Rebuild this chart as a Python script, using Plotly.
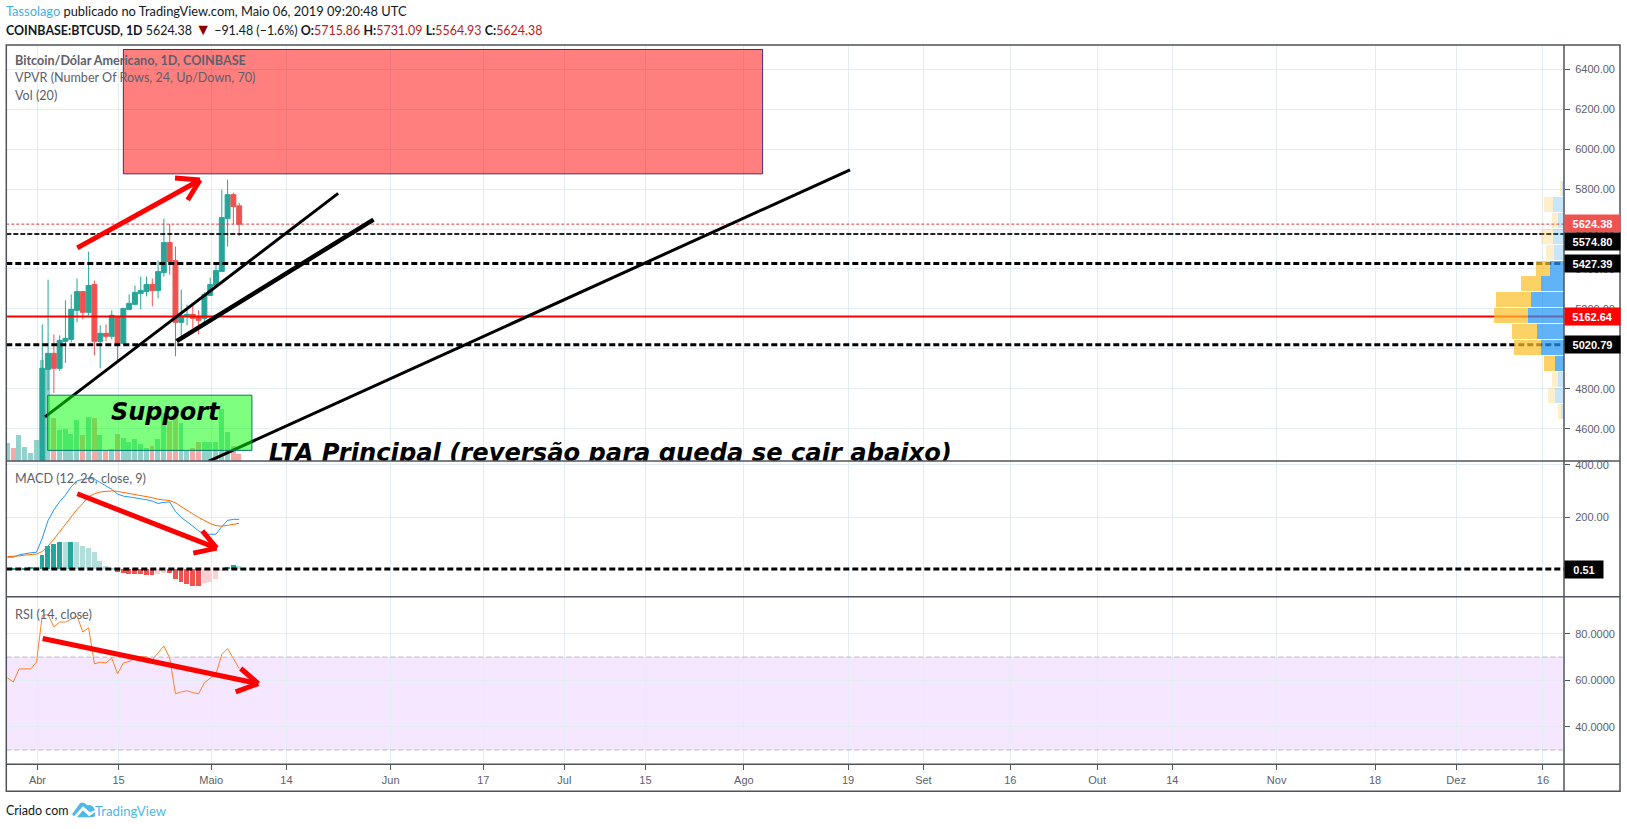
import pandas as pd
import plotly.graph_objects as go

W, H = 1627, 829

# ---------- data ----------
ALL_DATES = pd.date_range("2019-03-27", "2019-05-06", freq="D")
CANDLE_DATES = pd.date_range("2019-04-02", "2019-05-06", freq="D")

OPEN = [4140, 4898, 4978, 4903, 5038, 5048, 5193, 5287, 5183, 5322, 5038, 5078, 5063, 5163, 5028, 5198, 5223, 5277,
        5287, 5322, 5292, 5382, 5532, 5442, 5133, 5163, 5173, 5163, 5153, 5268, 5317, 5387, 5652, 5772, 5716]
HIGH = [5123, 5347, 5073, 5068, 5243, 5273, 5352, 5290, 5487, 5342, 5118, 5123, 5193, 5165, 5205, 5273, 5317, 5362,
        5362, 5352, 5442, 5652, 5625, 5512, 5297, 5222, 5218, 5193, 5283, 5357, 5422, 5797, 5847, 5782, 5731]
LOW = [4100, 4793, 4780, 4890, 4930, 5033, 5133, 5148, 5168, 4968, 4903, 5038, 5048, 4943, 5018, 5193, 5218, 5198,
       5263, 5213, 5253, 5362, 5372, 4963, 5043, 5118, 5103, 5073, 5133, 5268, 5312, 5387, 5512, 5622, 5565]
CLOSE = [4903, 4978, 4903, 5043, 5053, 5198, 5287, 5183, 5317, 5038, 5078, 5063, 5168, 5028, 5203, 5228, 5283, 5292,
         5322, 5292, 5387, 5532, 5437, 5133, 5168, 5173, 5153, 5143, 5273, 5322, 5392, 5657, 5772, 5712, 5624]

VOLUME = [17.7, 12.7, 25.7, 14, 7.7, 21, 101, 92.7, 43, 31, 32, 27, 41, 26, 44, 43, 26, 10, 12, 27, 23, 19, 21.7, 17,
          13, 15, 22, 47.7, 40, 47, 37.7, 10, 13, 19, 19, 19, 19, 52, 29, 15, 7]
VOLUME_UP = [1, 0, 1, 1, 1, 1, 1, 1, 0, 1, 1, 1, 1, 0, 1, 0, 1, 0, 1, 0, 1, 1, 1, 1, 1, 0, 1, 1, 0, 0, 1, 1, 0, 0, 1,
             1, 1, 1, 1, 0, 0]

MACD = [46, 46, 55, 60, 63, 65, 119, 187, 227, 259, 284, 316, 339, 344, 348, 345, 331, 320, 306, 288, 280, 277, 274,
        270, 266, 261, 252, 256, 258, 221, 198, 182, 163, 147, 134, 134, 134, 163, 187, 191, 191]
SIGNAL = [48.6, 48.6, 51, 54, 55, 58, 68, 89, 115, 143, 170, 198, 229, 252, 278, 289, 296, 298, 300, 298, 294, 291,
          287, 283, 279, 274, 268, 266, 263, 254, 241, 227, 212, 198, 186, 175, 167, 165, 168, 172, 176]
HIST = [-2, 3, 4, 6, 8, 7, 55, 89, 97, 105, 103, 104, 103, 89, 82, 66, 32, 13, 5, -12, -16, -18, -19, -20, -21, -22,
        -18, -14, -15, -37, -48, -57, -64, -65, -52, -48, -37, -6, 9, 17, 13]
RSI = [61.0, 59.3, 64.9, 64.9, 64.9, 67.9, 88.0, 88.3, 83.0, 85.1, 85.1, 86.4, 87.7, 80.8, 82.6, 67.1, 67.8, 67.5,
       69.6, 62.8, 67.5, 68.1, 69.6, 70.2, 70.2, 68.8, 71.7, 74.8, 69.6, 54.2, 55.0, 55.5, 54.7, 54.2, 59.0, 61.0,
       62.8, 71.1, 73.7, 69.4, 65.1]

VP_PRICE = [5804, 5724, 5644, 5564, 5484, 5404, 5325, 5245, 5165, 5085, 5005, 4925, 4845, 4765, 4685]
VP_UP = [1.7, 10.3, 5.7, 10.3, 9.3, 14, 22.7, 32.3, 35.3, 26.3, 22.3, 8.3, 5.7, 8.3, 3]
VP_DOWN = [1.7, 9.7, 5.7, 12.7, 8, 13.3, 20.3, 35.7, 34, 25.3, 27, 11, 6.3, 7, 2.7]
VP_IN_VALUE_AREA = [0, 0, 0, 0, 0, 1, 1, 1, 1, 1, 1, 1, 0, 0, 0]

TICK_DATES = ["2019-04-01", "2019-04-15", "2019-05-01", "2019-05-14", "2019-06-01", "2019-06-17", "2019-07-01",
              "2019-07-15", "2019-08-01", "2019-08-19", "2019-09-01", "2019-09-16", "2019-10-01", "2019-10-14",
              "2019-11-01", "2019-11-18", "2019-12-02", "2019-12-17"]
TICK_LABELS = ["Abr", "15", "Maio", "14", "Jun", "17", "Jul", "15", "Ago", "19", "Set", "16", "Out", "14", "Nov",
               "18", "Dez", "16"]
PRICE_TICKS = [4600, 4800, 5000, 5200, 5400, 5600, 5800, 6000, 6200, 6400]
MACD_TICKS = [200, 400]
RSI_TICKS = [40, 60, 80]

LAST_PRICE = 5624.38
DASHED_LEVELS = [5574.80, 5427.39, 5020.79]
RED_LEVEL = 5162.64
MACD_LEVEL = 0.51

# ---------- helpers ----------
START = pd.Timestamp("2019-04-01")
TEAL, RED = "#26a69a", "#ef5350"
GRID = "#e3edf3"
FRAME = "#50535e"
GRAY = "#5d606b"
TICKFONT = dict(family="Liberation Sans", size=11, color=GRAY)
HEADFONT = "Lato"


def day(d):
    return START + pd.Timedelta(days=d)


def px(x):
    return x / W


def py(y):
    return 1 - (y - 0.8) / H


X_RANGE = [day(-5.216), day(263.8)]
X_DOMAIN = [px(6.3), px(1564)]
TICKVALS = [pd.Timestamp(t) + pd.Timedelta(hours=4) for t in TICK_DATES]

fig = go.Figure()

# volume (primary axis of the top panel, so price draws above it)
fig.add_trace(go.Bar(x=ALL_DATES, y=VOLUME, xaxis="x", yaxis="y", width=0.85 * 86400000, showlegend=False,
                     marker=dict(color=["rgba(38,166,154,.5)" if u else "rgba(239,83,80,.5)" for u in VOLUME_UP],
                                 line_width=0)))
# candles
fig.add_trace(go.Candlestick(x=CANDLE_DATES, open=OPEN, high=HIGH, low=LOW, close=CLOSE, xaxis="x", yaxis="y4",
                             whiskerwidth=0, showlegend=False,
                             increasing=dict(line=dict(color=TEAL, width=1), fillcolor=TEAL),
                             decreasing=dict(line=dict(color=RED, width=1), fillcolor=RED)))
# horizontal levels
fig.add_trace(go.Scatter(x=X_RANGE, y=[LAST_PRICE] * 2, mode="lines", xaxis="x", yaxis="y4", showlegend=False,
                         line=dict(color="#e53935", width=1, dash="3px,2px")))
for i, lv in enumerate(DASHED_LEVELS):
    fig.add_trace(go.Scatter(x=X_RANGE, y=[lv] * 2, mode="lines", xaxis="x", yaxis="y4", showlegend=False,
                             line=dict(color="#000000" if i else "#222222", width=3 if i else 2,
                                       dash="6px,3px" if i else "5px,2px")))
fig.add_trace(go.Scatter(x=X_RANGE, y=[RED_LEVEL] * 2, mode="lines", xaxis="x", yaxis="y4", showlegend=False,
                         line=dict(color="#ff0000", width=2)))
# clipped long label
fig.add_trace(go.Scatter(x=[day(40.1)], y=[4472], mode="text", xaxis="x", yaxis="y4", showlegend=False,
                         text=["LTA Principal (reversão para queda se cair abaixo)"], textposition="middle right",
                         textfont=dict(family="DejaVu Sans", size=24.2, color="#000000", weight="bold",
                                       style="italic")))
# VPVR
fig.add_trace(go.Bar(x=VP_UP, y=VP_PRICE, orientation="h", xaxis="x5", yaxis="y4", width=75, showlegend=False,
                     marker=dict(color=["rgba(33,150,243,.72)" if v else "rgba(33,150,243,.25)"
                                        for v in VP_IN_VALUE_AREA], line_width=0)))
fig.add_trace(go.Bar(x=VP_DOWN, y=VP_PRICE, orientation="h", xaxis="x5", yaxis="y4", width=75, showlegend=False,
                     marker=dict(color=["rgba(251,192,45,.72)" if v else "rgba(251,192,45,.25)"
                                        for v in VP_IN_VALUE_AREA], line_width=0)))

# MACD histogram and lines
hist_colors = []
for i, v in enumerate(HIST):
    prev = HIST[i - 1] if i else 0
    if v >= 0:
        hist_colors.append(TEAL if v > prev else "#b2dfdb")
    else:
        hist_colors.append(RED if v < prev else "#ffcdd2")
fig.add_trace(go.Bar(x=ALL_DATES, y=HIST, xaxis="x2", yaxis="y2", width=0.85 * 86400000, showlegend=False,
                     marker=dict(color=hist_colors, line_width=0)))
fig.add_trace(go.Scatter(x=ALL_DATES, y=MACD, mode="lines", xaxis="x2", yaxis="y2", showlegend=False,
                         line=dict(color="#2196f3", width=1)))
fig.add_trace(go.Scatter(x=ALL_DATES, y=SIGNAL, mode="lines", xaxis="x2", yaxis="y2", showlegend=False,
                         line=dict(color="#ff6d00", width=1)))
fig.add_trace(go.Scatter(x=X_RANGE, y=[MACD_LEVEL] * 2, mode="lines", xaxis="x2", yaxis="y2", showlegend=False,
                         line=dict(color="#000000", width=3, dash="6px,3px")))
# RSI
fig.add_trace(go.Scatter(x=ALL_DATES, y=RSI, mode="lines", xaxis="x3", yaxis="y3", showlegend=False,
                         line=dict(color="#ff7f27", width=1)))

# ---------- shapes ----------
shapes = []
# RSI band
shapes.append(dict(type="rect", xref="x3", yref="y3", x0=X_RANGE[0], x1=day(263.6), y0=30, y1=70, layer="below",
                   fillcolor="rgba(153,21,255,.1)", line_width=0))
for lv in (30, 70):
    shapes.append(dict(type="line", xref="x3", yref="y3", x0=X_RANGE[0], x1=day(263.6), y0=lv, y1=lv, layer="above",
                       line=dict(color="#bdb5c4", width=1, dash="5px,3px")))


def seg(x0, y0, x1, y1, width, color="#000000", yref="y4", xref="x"):
    shapes.append(dict(type="line", xref=xref, yref=yref, x0=day(x0), y0=y0, x1=day(x1), y1=y1, layer="above",
                       line=dict(color=color, width=width)))


# trend lines
seg(1.47, 4660, 52.1, 5778, 3)
seg(24.2, 5039.5, 58.2, 5647, 4.5)
seg(29.7, 4437.7, 140.5, 5896, 3)
# target and support zones
shapes.append(dict(type="rect", xref="x", yref="y4", x0=day(15.0), x1=day(125.4), y0=5876, y1=6498, layer="above",
                   fillcolor="rgba(255,0,0,.5)", line=dict(color="#3f2a8c", width=1)))
shapes.append(dict(type="rect", xref="x", yref="y4", x0=day(1.93), x1=day(37.2), y0=4492.6, y1=4768.6, layer="above",
                   fillcolor="rgba(0,255,0,.5)", line=dict(color="#00796b", width=1)))
# red arrows
for yr, a, b, c, d in [
    ("y4", (7.05, 5505.6), (28.24, 5845), (23.92, 5855), (26.11, 5745)),
    ("y2", (7.05, 289), (31.12, 80.6), (28.64, 146.7), (27.08, 61.5)),
    ("y3", (1.07, 78), (38.3, 58.6), (35.27, 65.1), (34.4, 55.05)),
]:
    xr = {"y4": "x", "y2": "x2", "y3": "x3"}[yr]
    seg(a[0], a[1], b[0], b[1], 5, "#ff0000", yr, xr)
    seg(c[0], c[1], b[0], b[1], 5, "#ff0000", yr, xr)
    seg(d[0], d[1], b[0], b[1], 5, "#ff0000", yr, xr)

# frame and separators
shapes.append(dict(type="rect", xref="paper", yref="paper", x0=px(6.3), x1=px(1620), y0=py(792), y1=py(44),
                   layer="above", line=dict(color=FRAME, width=1.5), fillcolor="rgba(0,0,0,0)"))
for yy in (461, 597, 765):
    shapes.append(dict(type="line", xref="paper", yref="paper", x0=px(6.3), x1=px(1620), y0=py(yy), y1=py(yy),
                       layer="above", line=dict(color=FRAME, width=1.5)))
shapes.append(dict(type="line", xref="paper", yref="paper", x0=px(1564), x1=px(1564), y0=py(792), y1=py(44),
                   layer="above", line=dict(color=FRAME, width=1.5)))


# logo
def pathpx(cmds):
    out = []
    for c in cmds:
        if isinstance(c, str):
            out.append(c)
        else:
            out.append(f"{px(c[0]):.5f},{py(c[1]):.5f}")
    return " ".join(out)


LOGO = "#4fb8ea"
shapes.append(dict(type="path", xref="paper", yref="paper", layer="above", fillcolor=LOGO, line_width=0,
                   path=pathpx(["M", (72, 815), "L", (80, 804), "Q", (84, 802), (87, 806), "Q", (93, 805), (95, 811),
                                "L", (90, 813), "L", (83, 807), "L", (74, 817), "Z"])))
shapes.append(dict(type="path", xref="paper", yref="paper", layer="above", fillcolor=LOGO, line_width=0,
                   path=pathpx(["M", (77, 818), "L", (83, 811), "L", (89, 817), "L", (95, 813), "Q", (96, 818), (92, 818),
                                "Z"])))

# ---------- annotations ----------
ann = []


def text(x, y, s, size=12.6, color="#131722", family=HEADFONT):
    ann.append(dict(xref="paper", yref="paper", x=px(x), y=py(y), xanchor="left", yanchor="middle", showarrow=False,
                    text=s, align="left", font=dict(family=family, size=size, color=color)))


R = "#b71c1c"
text(4.4, 10, "<span style='color:#3fb0e8'>Tassolago</span> publicado no TradingView.com, Maio 06, 2019 09:20:48 UTC",
     size=12.85)
text(4.4, 27, "<b>COINBASE:BTCUSD, 1D</b> 5624.38 <span style='color:#8b0000;font-size:16px'>▼</span> −91.48 (−1.6%) "
              f"<b>O:</b><span style='color:{R}'>5715.86</span> <b>H:</b><span style='color:{R}'>5731.09</span> "
              f"<b>L:</b><span style='color:{R}'>5564.93</span> <b>C:</b><span style='color:{R}'>5624.38</span>",
     size=12.45)
text(13.1, 59.6, "<b>Bitcoin/Dólar Americano, 1D, COINBASE</b>", color=GRAY)
text(13.1, 76.8, "VPVR (Number Of Rows, 24, Up/Down, 70)", color=GRAY)
text(13.1, 94.3, "Vol (20)", color=GRAY)
text(13.1, 478.5, "MACD (12, 26, close, 9)", color=GRAY)
text(13.1, 614.5, "RSI (14, close)", color=GRAY)
text(4, 811.3, "Criado com", size=12.5)
text(93, 811.3, "TradingView", size=13.2, color=LOGO)

ann.append(dict(xref="x", yref="y4", x=day(22.35), y=4684, showarrow=False, text="Support",
                font=dict(family="DejaVu Sans", size=24, color="#000000", weight="bold", style="italic")))


def tag(yref, y, s, bg, width=53, yshift=0):
    ann.append(dict(xref="paper", yref=yref, x=px(1564), y=y, xanchor="left", yanchor="middle", showarrow=False,
                    text=f"<b>{s}</b>", bgcolor=bg, width=width, height=15, borderpad=1, yshift=yshift, align="center",
                    font=dict(family="Liberation Sans", size=11, color="#ffffff")))


tag("y4", LAST_PRICE, f"{LAST_PRICE:.2f}", RED, yshift=1)
tag("y4", DASHED_LEVELS[0], f"{DASHED_LEVELS[0]:.2f}", "#000000", yshift=-7.6)
tag("y4", DASHED_LEVELS[1], f"{DASHED_LEVELS[1]:.2f}", "#000000")
tag("y4", RED_LEVEL, f"{RED_LEVEL:.2f}", "#ff0000")
tag("y4", DASHED_LEVELS[2], f"{DASHED_LEVELS[2]:.2f}", "#000000")
tag("y2", MACD_LEVEL, f"{MACD_LEVEL:.2f}", "#000000", width=36)

# ---------- layout ----------
xbase = dict(type="date", range=X_RANGE, domain=X_DOMAIN, tickmode="array", tickvals=TICKVALS, ticktext=TICK_LABELS,
             showgrid=True, gridcolor=GRID, gridwidth=1, zeroline=False, showline=False)
fig.update_layout(
    width=W, height=H, autosize=False, margin=dict(l=0, r=0, t=0, b=0), paper_bgcolor="#ffffff",
    plot_bgcolor="#ffffff", barmode="stack", bargap=0, boxgap=0.15, boxgroupgap=0, showlegend=False, shapes=shapes,
    annotations=ann, font=dict(family="Liberation Sans"),
    xaxis=dict(**xbase, anchor="y", showticklabels=False, ticks="", rangeslider=dict(visible=False)),
    xaxis2=dict(**xbase, anchor="y2", showticklabels=False, ticks=""),
    xaxis3=dict(**xbase, anchor="y3", ticks="outside", ticklen=5, tickcolor=FRAME, tickfont=TICKFONT),
    xaxis5=dict(type="linear", range=[1557.7, 0], domain=X_DOMAIN, overlaying="x", anchor="y4", visible=False),
    yaxis=dict(range=[0, 417], domain=[py(461), py(44)], anchor="x", visible=False, showgrid=False),
    yaxis4=dict(range=[4439, 6520], domain=[py(461), py(44)], anchor="x", overlaying="y", side="right",
                tickmode="array", tickvals=PRICE_TICKS, tickformat=".2f", showgrid=True, gridcolor=GRID, zeroline=False,
                ticks="outside", ticklen=5, tickcolor=FRAME, tickfont=TICKFONT, ticklabelstandoff=3),
    yaxis2=dict(range=[-105.5, 414.2], domain=[py(597), py(461)], anchor="x2", side="right", tickmode="array",
                tickvals=MACD_TICKS, tickformat=".2f", showgrid=True, gridcolor=GRID, zeroline=False, ticks="outside",
                ticklen=5, tickcolor=FRAME, tickfont=TICKFONT, ticklabelstandoff=3),
    yaxis3=dict(range=[23.8, 96], domain=[py(765), py(597)], anchor="x3", side="right", tickmode="array",
                tickvals=RSI_TICKS, tickformat=".4f", showgrid=True, gridcolor=GRID, zeroline=False, ticks="outside",
                ticklen=5, tickcolor=FRAME, tickfont=TICKFONT, ticklabelstandoff=3),
)

fig.write_html("out.html", config={"displayModeBar": False},
               post_script="document.body.style.margin='0';document.body.style.overflow='hidden';")
